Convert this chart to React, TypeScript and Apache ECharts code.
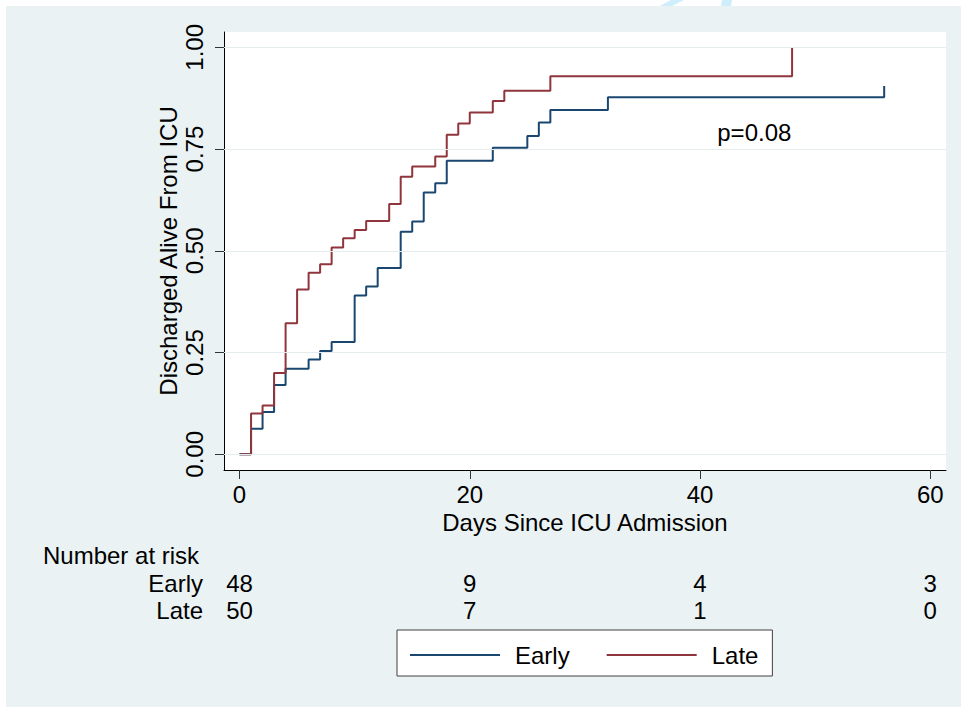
import React, { useEffect, useRef } from "react";
import * as echarts from "echarts";

// Kaplan-Meier style cumulative discharge (step values)
const earlyDays = [0, 1, 2, 3, 4, 6, 7, 8, 10, 11, 12, 14, 15, 16, 17, 18, 22, 25, 26, 27, 32, 56];
const earlyVals = [0, 0.0625, 0.104, 0.17, 0.21, 0.233, 0.254, 0.276, 0.39, 0.412, 0.458, 0.547, 0.572, 0.643, 0.666, 0.721, 0.753, 0.782, 0.815, 0.846, 0.877, 0.905];
const lateDays = [0, 1, 2, 3, 4, 5, 6, 7, 8, 9, 10, 11, 13, 14, 15, 17, 18, 19, 20, 22, 23, 27, 48];
const lateVals = [0, 0.1, 0.12, 0.2, 0.322, 0.405, 0.446, 0.467, 0.508, 0.531, 0.551, 0.573, 0.615, 0.682, 0.707, 0.732, 0.785, 0.813, 0.84, 0.868, 0.893, 0.929, 1.0];

const xTicks = [0, 20, 40, 60];
const yTicks = [0, 0.25, 0.5, 0.75, 1];
const yTickLabels = ["0.00", "0.25", "0.50", "0.75", "1.00"];

const riskTimes = [0, 20, 40, 60];
const riskEarly = [48, 9, 4, 3];
const riskLate = [50, 7, 1, 0];

const seriesNames = ["Early", "Late"];
const pText = "p=0.08";
const pPos = [41.5, 0.79];

const FONT = '"Liberation Sans", Arial, Helvetica, sans-serif';
const BLUE = "#1a476f";
const RED = "#90353b";
const BG = "#eaf2f3";

export default function App() {
  const ref = useRef<HTMLDivElement>(null);
  useEffect(() => {
    if (!ref.current) return;
    const chart = echarts.init(ref.current, undefined, { renderer: "svg" });
    const option: any = {
      animation: false,
      backgroundColor: BG,
      textStyle: { fontFamily: FONT },
      grid: {
        left: 224,
        top: 32,
        right: 15,
        bottom: 237,
        show: true,
        backgroundColor: "#ffffff",
        borderWidth: 0,
      },
      xAxis: {
        type: "value",
        min: -1.35,
        max: 61.37,
        name: "Days Since ICU Admission",
        nameLocation: "middle",
        nameGap: 36,
        nameTextStyle: { fontSize: 24, color: "#000", fontFamily: FONT },
        axisLine: { show: true, onZero: false, lineStyle: { color: "#000", width: 1 } },
        axisTick: { show: true, length: 9, customValues: xTicks, lineStyle: { color: "#333", width: 1 } },
        axisLabel: { customValues: xTicks, fontSize: 24, color: "#000", margin: 12, fontFamily: FONT },
        splitLine: { show: false },
      },
      yAxis: {
        type: "value",
        min: -0.0386,
        max: 1.0376,
        name: "Discharged Alive From ICU",
        nameLocation: "middle",
        nameRotate: 90,
        nameGap: 44,
        nameMoveOverlap: false,
        nameTextStyle: { fontSize: 24, color: "#000", fontFamily: FONT },
        axisLine: { show: true, onZero: false, lineStyle: { color: "#000", width: 1 } },
        axisTick: { show: true, length: 9, customValues: yTicks, lineStyle: { color: "#333", width: 1 } },
        axisLabel: {
          customValues: yTicks,
          rotate: 90,
          fontSize: 24,
          color: "#000",
          margin: 18,
          fontFamily: FONT,
          formatter: (v: number) => {
            const i = yTicks.findIndex((t) => Math.abs(t - v) < 1e-9);
            return i >= 0 ? yTickLabels[i] : "";
          },
        },
        splitLine: { show: false },
      },
      legend: {
        left: 397,
        top: 630,
        orient: "horizontal",
        data: seriesNames.map((n) => ({ name: n, icon: "rect" })),
        itemWidth: 90,
        itemHeight: 2,
        itemGap: 37,
        backgroundColor: "#ffffff",
        borderColor: "#404040",
        borderWidth: 1,
        borderRadius: 0,
        padding: [13, 14, 9, 13],
        textStyle: { fontSize: 24, color: "#000", fontFamily: FONT, padding: [0, 0, 0, 10] },
      },
      series: [
        {
          type: "line",
          name: "__grid",
          data: [],
          z: 1,
          silent: true,
          markLine: {
            silent: true,
            symbol: ["none", "none"],
            label: { show: false },
            lineStyle: { color: "#e4ecee", width: 1, type: "solid" },
            data: yTicks.map((t) => ({ yAxis: t })),
          },
        },
        {
          type: "line",
          name: seriesNames[0],
          step: "end",
          showSymbol: false,
          z: 3,
          lineStyle: { color: BLUE, width: 2 },
          itemStyle: { color: BLUE },
          data: earlyDays.map((d, i) => [d, earlyVals[i]]),
        },
        {
          type: "line",
          name: seriesNames[1],
          step: "end",
          showSymbol: false,
          z: 4,
          lineStyle: { color: RED, width: 2 },
          itemStyle: { color: RED },
          data: lateDays.map((d, i) => [d, lateVals[i]]),
        },
      ],
    };
    chart.setOption(option);

    const xs = riskTimes.map((t) => chart.convertToPixel({ xAxisIndex: 0 }, t) as number);
    const pp = chart.convertToPixel({ gridIndex: 0 }, pPos) as number[];
    const ts = { fontSize: 24, fontFamily: FONT, fill: "#000" };
    const graphic: any[] = [
      { type: "rect", shape: { x: 0, y: 0, width: 961, height: 6 }, style: { fill: "#fff" }, silent: true },
      { type: "rect", shape: { x: 0, y: 0, width: 6, height: 707 }, style: { fill: "#fff" }, silent: true },
      { type: "polygon", shape: { points: [[671, 0], [684, 0], [672, 6], [660, 6]] }, style: { fill: "#cdeefa" }, silent: true },
      { type: "polygon", shape: { points: [[722, 0], [732, 0], [731, 6], [721, 6]] }, style: { fill: "#cdeefa" }, silent: true },
      {
        type: "text",
        x: pp[0],
        y: pp[1],
        style: { ...ts, text: pText, textAlign: "left", textVerticalAlign: "middle" },
        z: 10,
      },
      { type: "text", x: 43, y: 555, style: { ...ts, text: "Number at risk", textAlign: "left", textVerticalAlign: "middle" } },
      { type: "text", x: 203, y: 583, style: { ...ts, text: seriesNames[0], textAlign: "right", textVerticalAlign: "middle" } },
      { type: "text", x: 203, y: 610, style: { ...ts, text: seriesNames[1], textAlign: "right", textVerticalAlign: "middle" } },
    ];
    xs.forEach((x, i) => {
      graphic.push({ type: "text", x, y: 583, style: { ...ts, text: String(riskEarly[i]), textAlign: "center", textVerticalAlign: "middle" } });
      graphic.push({ type: "text", x, y: 610, style: { ...ts, text: String(riskLate[i]), textAlign: "center", textVerticalAlign: "middle" } });
    });
    chart.setOption({ graphic });

    return () => chart.dispose();
  }, []);
  return <div ref={ref} style={{ position: "absolute", left: 0, top: 0, width: 961, height: 707 }} />;
}
